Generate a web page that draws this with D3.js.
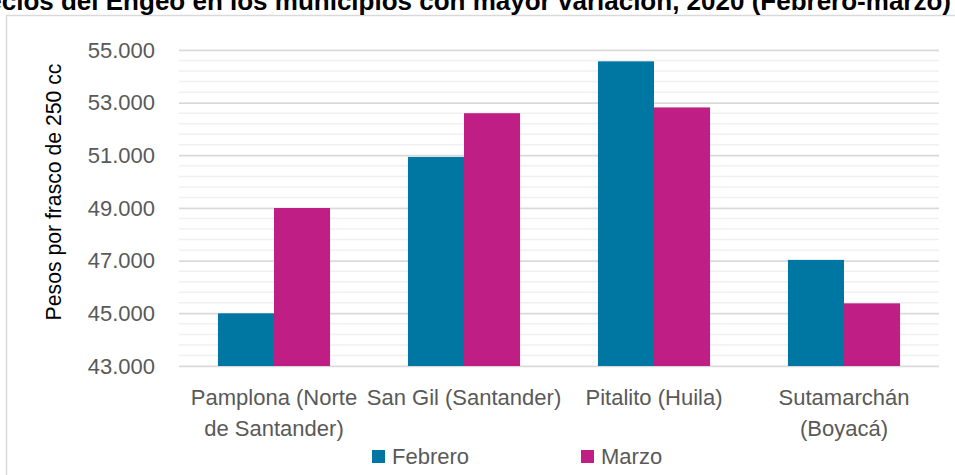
<!DOCTYPE html>
<html>
<head>
<meta charset="utf-8">
<script src="https://cdn.jsdelivr.net/npm/d3@7"></script>
<style>
  body { margin: 0; background: #fff; }
  svg { display: block; font-family: "Liberation Sans", Arial, sans-serif; }
</style>
</head>
<body>
<svg width="955" height="475"></svg>
<script>
var categories = [
  ["Pamplona (Norte", "de Santander)"],
  ["San Gil (Santander)"],
  ["Pitalito (Huila)"],
  ["Sutamarchán", "(Boyacá)"]
];
var series = ["Febrero", "Marzo"];
var febrero = [45000, 50940, 54570, 47030];
var marzo = [49000, 52600, 52820, 45380];
var yTicks = [43000, 45000, 47000, 49000, 51000, 53000, 55000];
var colors = ["#0077a3", "#bf1f84"];

var title = "Precios del Engeo en los municipios con mayor variación, 2020 (Febrero-marzo)";

var svg = d3.select("svg"),
    width = +svg.attr("width"),
    height = +svg.attr("height");

var fmt = d3.formatLocale({decimal: ",", thousands: ".", grouping: [3], currency: ["$", ""]}).format(",.0f");

// chart frame
svg.append("rect")
    .attr("x", 6.5).attr("y", 15.5)
    .attr("width", 960).attr("height", 470)
    .attr("fill", "#fff")
    .attr("stroke", "#d9d9d9")
    .attr("stroke-width", 1.5);

// title, clipped at the top like the source
svg.append("text")
    .attr("x", 951).attr("y", 10)
    .attr("text-anchor", "end")
    .attr("font-weight", "bold")
    .attr("font-size", 26)
    .attr("fill", "#000")
    .text(title);

var x0 = d3.scaleBand()
    .domain(d3.range(categories.length))
    .range([179, 939])
    .paddingInner(0.41)
    .paddingOuter(0.205);

var x1 = d3.scaleBand()
    .domain(series)
    .range([0, x0.bandwidth()]);

var y = d3.scaleLinear()
    .domain([43000, 55000])
    .range([366, 50]);

// minor grid every 400
var minor = d3.range(43000, 55001, 400).filter(function(v) { return v % 2000 !== 0; });
svg.append("g").selectAll("line")
    .data(minor)
    .enter().append("line")
    .attr("x1", 179).attr("x2", 939)
    .attr("y1", function(d) { return y(d); })
    .attr("y2", function(d) { return y(d); })
    .attr("stroke", "#f0f0f0")
    .attr("stroke-width", 1.5);

// major grid + labels via axis
var yAxis = svg.append("g")
    .attr("transform", "translate(179,0)")
    .call(d3.axisLeft(y).tickValues(yTicks).tickFormat(fmt).tickSize(-760).tickPadding(24));
yAxis.select(".domain").remove();
yAxis.selectAll(".tick line").attr("stroke", "#d9d9d9").attr("stroke-width", 1.5);
yAxis.selectAll(".tick text")
    .attr("font-size", 22)
    .attr("font-family", "Liberation Sans, Arial, sans-serif")
    .attr("fill", "#595959");

svg.append("text")
    .attr("transform", "translate(61,192) rotate(-90)")
    .attr("text-anchor", "middle")
    .attr("font-size", 21.2)
    .attr("fill", "#000")
    .text("Pesos por frasco de 250 cc");

// bars
var data = categories.map(function(c, i) {
  return [{s: "Febrero", v: febrero[i]}, {s: "Marzo", v: marzo[i]}];
});

svg.append("g").selectAll("g")
    .data(data)
    .enter().append("g")
    .attr("transform", function(d, i) { return "translate(" + x0(i) + ",0)"; })
    .selectAll("rect")
    .data(function(d) { return d; })
    .enter().append("rect")
    .attr("x", function(d) { return x1(d.s); })
    .attr("width", x1.bandwidth())
    .attr("y", function(d) { return y(d.v); })
    .attr("height", function(d) { return y(43000) - y(d.v); })
    .attr("fill", function(d, i) { return colors[i]; });

// category labels
var catLabels = svg.append("g").selectAll("text")
    .data(categories)
    .enter().append("text")
    .attr("text-anchor", "middle")
    .attr("font-size", 22)
    .attr("fill", "#595959")
    .attr("x", function(d, i) { return x0(i) + x0.bandwidth() / 2; })
    .attr("y", 405);

catLabels.selectAll("tspan")
    .data(function(d) { return d; })
    .enter().append("tspan")
    .attr("x", function() { return d3.select(this.parentNode).attr("x"); })
    .attr("dy", function(d, i) { return i === 0 ? 0 : 31; })
    .text(function(d) { return d; });

// legend
var legendX = [372, 581];
var legend = svg.append("g").selectAll("g")
    .data(series)
    .enter().append("g")
    .attr("transform", function(d, i) { return "translate(" + legendX[i] + ",450)"; });

legend.append("rect")
    .attr("width", 13).attr("height", 13)
    .attr("fill", function(d, i) { return colors[i]; });

legend.append("text")
    .attr("x", 20).attr("y", 14)
    .attr("font-size", 22)
    .attr("fill", "#595959")
    .text(function(d) { return d; });
</script>
</body>
</html>
